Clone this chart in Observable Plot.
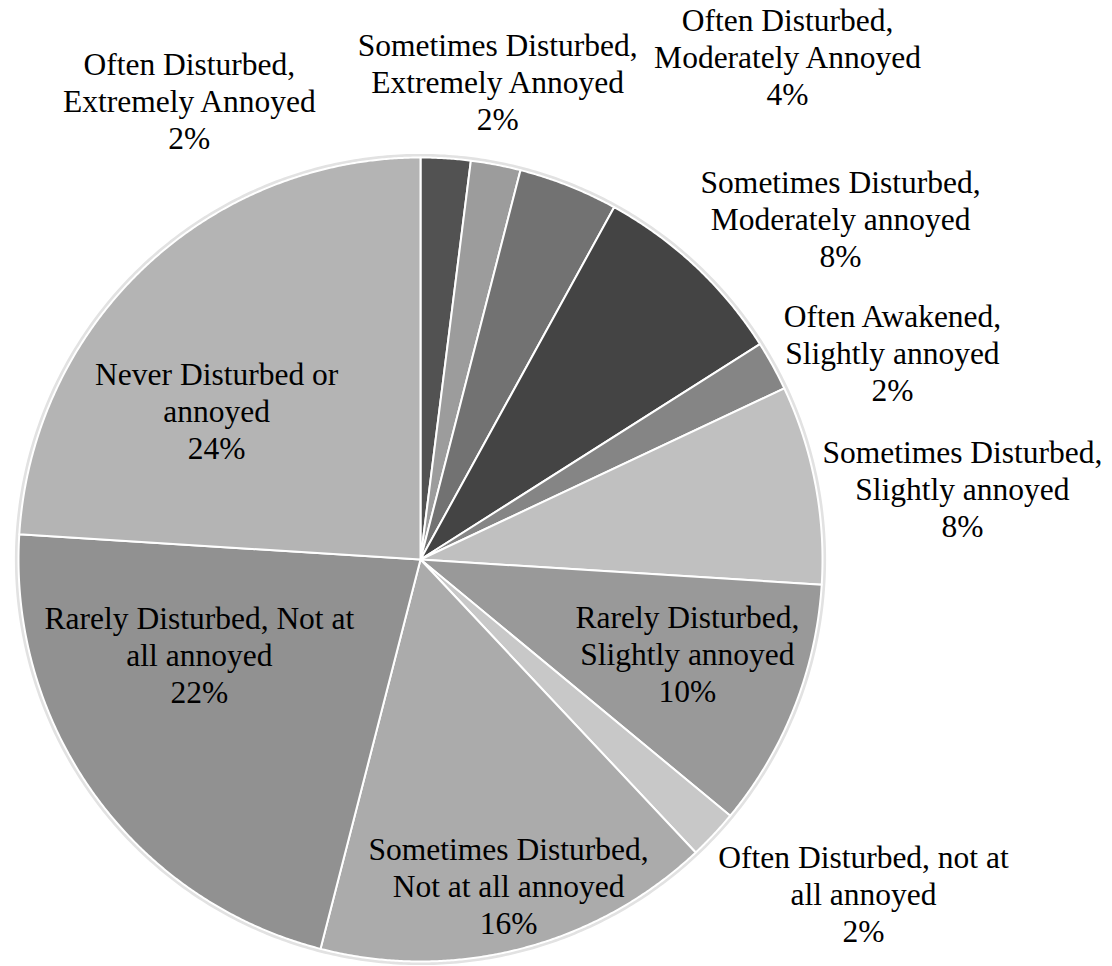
<!DOCTYPE html>
<html>
<head>
<meta charset="utf-8">
<script src="https://cdn.jsdelivr.net/npm/d3@7"></script>
<script src="https://cdn.jsdelivr.net/npm/@observablehq/plot@0.6"></script>
<style>
  html, body { margin: 0; padding: 0; background: #fff; }
  #chart svg { display: block; }
</style>
</head>
<body>
<div id="chart"></div>
<script>
// ---- data ----
const categories = [
  "Often Disturbed, Extremely Annoyed",
  "Sometimes Disturbed, Extremely Annoyed",
  "Often Disturbed, Moderately Annoyed",
  "Sometimes Disturbed, Moderately annoyed",
  "Often Awakened, Slightly annoyed",
  "Sometimes Disturbed, Slightly annoyed",
  "Rarely Disturbed, Slightly annoyed",
  "Often Disturbed, not at all annoyed",
  "Sometimes Disturbed, Not at all annoyed",
  "Rarely Disturbed, Not at all annoyed",
  "Never Disturbed or annoyed"
];
const values = [2, 2, 4, 8, 2, 8, 10, 2, 16, 22, 24];
const labelLines = [
  ["Often Disturbed,", "Extremely Annoyed"],
  ["Sometimes Disturbed,", "Extremely Annoyed"],
  ["Often Disturbed,", "Moderately Annoyed"],
  ["Sometimes Disturbed,", "Moderately annoyed"],
  ["Often Awakened,", "Slightly annoyed"],
  ["Sometimes Disturbed,", "Slightly annoyed"],
  ["Rarely Disturbed,", "Slightly annoyed"],
  ["Often Disturbed, not at", "all annoyed"],
  ["Sometimes Disturbed,", "Not at all annoyed"],
  ["Rarely Disturbed, Not at", "all annoyed"],
  ["Never Disturbed or", "annoyed"]
];

// ---- styles / layout (not data) ----
const sliceColors = ["#525252", "#9c9c9c", "#727272", "#444444", "#858585", "#c0c0c0",
                     "#999999", "#c8c8c8", "#ababab", "#919191", "#b4b4b4"];
// label anchors in pie-radius units (centre = 0,0; radius = 1)
const labelAnchors = [
  [-0.575, 1.142], [0.192, 1.191], [0.913, 1.251], [1.045, 0.850],
  [1.174, 0.515], [1.348, 0.177], [0.664, -0.234], [1.102, -0.831],
  [0.219, -0.811], [-0.550, -0.236], [-0.507, 0.371]
];
const W = 1112, H = 966, CX = 420, CY = 559, R = 402;

// ---- build slice polygons from the values ----
const arcs = d3.pie().sort(null).value(d => d)(values);
const pts = [];
arcs.forEach((a, i) => {
  const name = categories[i];
  pts.push({name, color: sliceColors[i], x: 0, y: 0});
  const n = Math.max(2, Math.ceil((a.endAngle - a.startAngle) / 0.005));
  for (let k = 0; k <= n; k++) {
    const t = a.startAngle + (a.endAngle - a.startAngle) * k / n;
    pts.push({name, color: sliceColors[i], x: Math.sin(t), y: Math.cos(t)});
  }
  pts.push({name, color: sliceColors[i], x: 0, y: 0});
});
const ring = d3.range(0, 2 * Math.PI + 0.01, 0.01).map(t => ({x: 1.004 * Math.sin(t), y: 1.004 * Math.cos(t)}));

const labels = arcs.map((a, i) => ({
  x: labelAnchors[i][0],
  y: labelAnchors[i][1],
  text: [...labelLines[i], Math.round(values[i]) + "%"].join("\n")
}));

const plot = Plot.plot({
  width: W,
  height: H,
  margin: 0,
  x: {domain: [-1, 1], range: [CX - R, CX + R], axis: null},
  y: {domain: [-1, 1], range: [CY + R, CY - R], axis: null},
  color: {type: "identity"},
  style: {background: "#fff"},
  marks: [
    Plot.line(ring, {x: "x", y: "y", stroke: "#e2e2e2", strokeWidth: 4}),
    Plot.line(pts, {x: "x", y: "y", z: "name", fill: "color", stroke: "#ffffff", strokeWidth: 2, strokeLinejoin: "round"}),
    Plot.text(labels, {
      x: "x", y: "y", text: "text",
      fontSize: 31.5, lineHeight: 1.175,
      fontFamily: "'Liberation Serif', 'Times New Roman', serif",
      fill: "#000", textAnchor: "middle", lineAnchor: "middle"
    })
  ]
});
document.getElementById("chart").appendChild(plot);
</script>
</body>
</html>
